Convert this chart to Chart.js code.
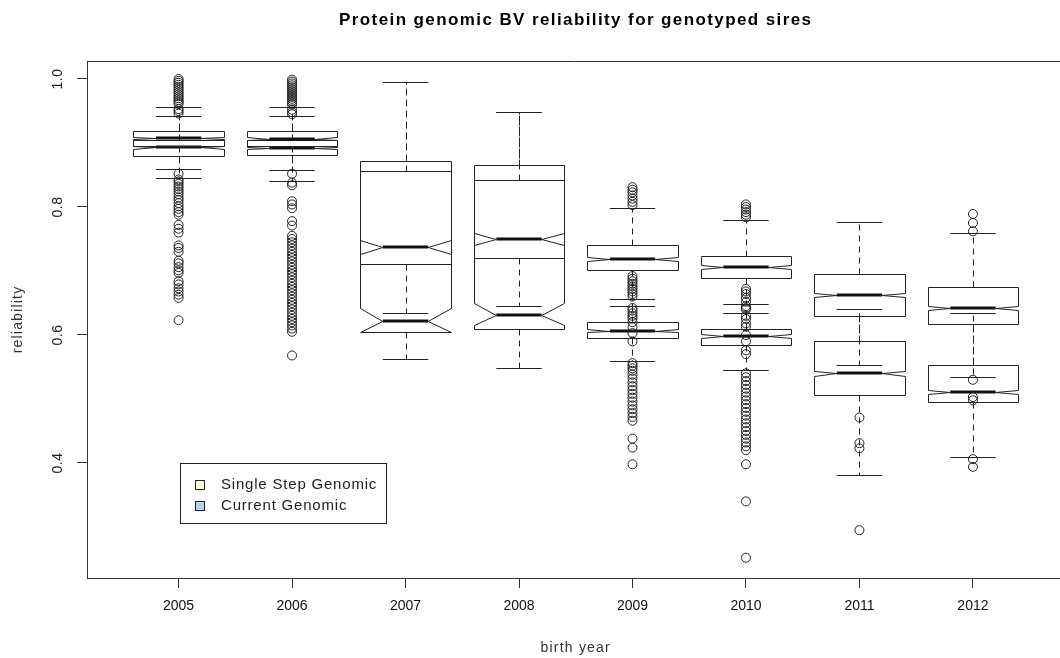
<!DOCTYPE html>
<html>
<head>
<meta charset="utf-8">
<script src="https://cdn.jsdelivr.net/npm/chart.js@4.4.1/dist/chart.umd.min.js"></script>
<style>
  html, body { margin: 0; padding: 0; background: #fff; overflow: hidden; }
  #wrap { width: 1070px; height: 658px; position: relative; }
</style>
</head>
<body>
<div id="wrap"><canvas id="chart"></canvas></div>
<script>
// Birth years on the x axis
const years = [2005, 2006, 2007, 2008, 2009, 2010, 2011, 2012];
const yTicks = [0.4, 0.6, 0.8, 1.0];
const seriesNames = ['Single Step Genomic', 'Current Genomic'];
const seriesFill = ['#FFFFE0', '#ADD8E6'];

// Single Step Genomic box stats
const ssWhiskerLow  = [0.859, 0.858, 0.634, 0.646, 0.646, 0.648, 0.553, 0.534];
const ssQ1          = [0.895, 0.895, 0.711, 0.720, 0.702, 0.689, 0.629, 0.617];
const ssMedian      = [0.908, 0.907, 0.738, 0.750, 0.719, 0.706, 0.6625, 0.642];
const ssQ3          = [0.919, 0.919, 0.856, 0.842, 0.741, 0.724, 0.695, 0.675];
const ssWhiskerHigh = [0.957, 0.956, 0.995, 0.948, 0.799, 0.779, 0.776, 0.759];
const ssNotchLow    = [0.906, 0.905, 0.727, 0.741, 0.716, 0.703, 0.659, 0.639];
const ssNotchHigh   = [0.910, 0.909, 0.749, 0.759, 0.722, 0.709, 0.666, 0.645];

// Current Genomic box stats
const cgWhiskerLow  = [0.846, 0.841, 0.5625, 0.548, 0.560, 0.545, 0.382, 0.409];
const cgQ1          = [0.880, 0.881, 0.605, 0.609, 0.596, 0.584, 0.506, 0.496];
const cgMedian      = [0.893, 0.892, 0.622, 0.632, 0.607, 0.599, 0.540, 0.511];
const cgQ3          = [0.905, 0.904, 0.872, 0.865, 0.621, 0.609, 0.590, 0.553];
const cgWhiskerHigh = [0.942, 0.942, 0.995, 0.948, 0.656, 0.635, 0.641, 0.635];
const cgNotchLow    = [0.891, 0.890, 0.605, 0.616, 0.604, 0.596, 0.536, 0.508];
const cgNotchHigh   = [0.895, 0.894, 0.642, 0.650, 0.610, 0.602, 0.544, 0.514];

// outliers per year
const ssOutliers = [
  [0.961, 0.964, 0.967, 0.970, 0.973, 0.976, 0.979, 0.982, 0.985, 0.988, 0.991, 0.994, 0.997, 1.0, 0.852],
  [0.960, 0.963, 0.966, 0.969, 0.972, 0.975, 0.978, 0.981, 0.984, 0.987, 0.990, 0.993, 0.996, 0.999, 0.852],
  [],
  [],
  [0.803, 0.808, 0.813, 0.818, 0.823, 0.827, 0.831, 0.642, 0.638, 0.634, 0.630, 0.626, 0.620, 0.612, 0.603, 0.590],
  [0.784, 0.788, 0.792, 0.796, 0.800, 0.804, 0.642, 0.630, 0.625, 0.618, 0.613, 0.600, 0.590, 0.576, 0.570],
  [0.471, 0.431, 0.423],
  [0.762, 0.775, 0.789, 0.530, 0.503, 0.498]
];
const cgOutliers = [
  [0.946, 0.950, 0.953, 0.843, 0.840, 0.836, 0.832, 0.828, 0.824, 0.820, 0.815, 0.811, 0.806, 0.801, 0.797, 0.792, 0.788,
   0.772, 0.766, 0.760, 0.740, 0.736, 0.730, 0.716, 0.712, 0.706, 0.701, 0.697, 0.684, 0.679, 0.673, 0.668, 0.663, 0.658, 0.623],
  [0.945, 0.948, 0.952, 0.838, 0.834, 0.809, 0.804, 0.798, 0.778, 0.771, 0.755, 0.750, 0.745, 0.740, 0.735, 0.730, 0.725,
   0.720, 0.715, 0.710, 0.705, 0.700, 0.695, 0.690, 0.685, 0.680, 0.675, 0.670, 0.665, 0.660, 0.655, 0.650, 0.645, 0.640,
   0.635, 0.630, 0.625, 0.620, 0.615, 0.610, 0.605, 0.568],
  [],
  [],
  [0.660, 0.664, 0.668, 0.672, 0.676, 0.680, 0.684, 0.688, 0.692, 0.556, 0.552, 0.548, 0.544, 0.538, 0.532, 0.526, 0.520,
   0.514, 0.508, 0.502, 0.496, 0.490, 0.484, 0.478, 0.472, 0.466, 0.438, 0.424, 0.398],
  [0.640, 0.645, 0.652, 0.658, 0.664, 0.668, 0.672, 0.540, 0.534, 0.528, 0.522, 0.516, 0.510, 0.504, 0.498, 0.492, 0.486,
   0.480, 0.474, 0.468, 0.462, 0.456, 0.450, 0.444, 0.438, 0.432, 0.426, 0.420, 0.398, 0.340, 0.252],
  [0.295],
  [0.406, 0.394]
];

// drawing order: Current first, Single Step on top
const boxes = [
  { wl: cgWhiskerLow, q1: cgQ1, med: cgMedian, q3: cgQ3, wh: cgWhiskerHigh, nl: cgNotchLow, nh: cgNotchHigh },
  { wl: ssWhiskerLow, q1: ssQ1, med: ssMedian, q3: ssQ3, wh: ssWhiskerHigh, nl: ssNotchLow, nh: ssNotchHigh }
];

function outlierPoints(list) {
  const pts = [];
  list.forEach((vals, i) => vals.forEach(v => pts.push({ x: years[i], y: v })));
  return pts;
}

const FONT = "'Liberation Sans', Arial, sans-serif";
const crisp = v => Math.round(v) + 0.5;

// notched boxes + whiskers, positioned through the chart scales
const boxPlugin = {
  id: 'boxes',
  beforeDatasetsDraw(chart) {
    const { ctx } = chart;
    const xs = chart.scales.x, ys = chart.scales.y;
    ctx.save();
    boxes.forEach(b => {
      years.forEach((yr, i) => {
        const cx = crisp(xs.getPixelForValue(yr));
        const l = crisp(xs.getPixelForValue(yr - 0.4));
        const r = crisp(xs.getPixelForValue(yr + 0.4));
        const il = xs.getPixelForValue(yr - 0.2), ir = xs.getPixelForValue(yr + 0.2);
        const py = v => crisp(ys.getPixelForValue(v));
        ctx.strokeStyle = '#222';
        ctx.lineWidth = 1;
        // dashed whiskers
        ctx.setLineDash([6, 5]);
        ctx.beginPath();
        ctx.moveTo(cx, py(b.q3[i])); ctx.lineTo(cx, py(b.wh[i]));
        ctx.moveTo(cx, py(b.q1[i])); ctx.lineTo(cx, py(b.wl[i]));
        ctx.stroke();
        ctx.setLineDash([]);
        // caps
        ctx.beginPath();
        ctx.moveTo(il, py(b.wh[i])); ctx.lineTo(ir, py(b.wh[i]));
        ctx.moveTo(il, py(b.wl[i])); ctx.lineTo(ir, py(b.wl[i]));
        ctx.stroke();
        // box outline with notch
        ctx.beginPath();
        ctx.moveTo(l, py(b.q1[i]));
        ctx.lineTo(l, py(b.nl[i]));
        ctx.lineTo(il, py(b.med[i]));
        ctx.lineTo(l, py(b.nh[i]));
        ctx.lineTo(l, py(b.q3[i]));
        ctx.lineTo(r, py(b.q3[i]));
        ctx.lineTo(r, py(b.nh[i]));
        ctx.lineTo(ir, py(b.med[i]));
        ctx.lineTo(r, py(b.nl[i]));
        ctx.lineTo(r, py(b.q1[i]));
        ctx.closePath();
        ctx.stroke();
        // median
        ctx.lineWidth = 3;
        ctx.strokeStyle = '#111';
        ctx.beginPath();
        const my = Math.round(ys.getPixelForValue(b.med[i]));
        ctx.moveTo(il, my); ctx.lineTo(ir, my);
        ctx.stroke();
      });
    });
    ctx.restore();
  }
};

// titles, rotated y labels, top frame line and legend
const textPlugin = {
  id: 'texts',
  afterDraw(chart) {
    const { ctx, chartArea } = chart;
    const ys = chart.scales.y;
    ctx.save();
    ctx.strokeStyle = '#333';
    ctx.lineWidth = 1;
    ctx.beginPath();
    ctx.moveTo(chartArea.left, crisp(chartArea.top));
    ctx.lineTo(chartArea.right, crisp(chartArea.top));
    ctx.stroke();

    const midX = (chartArea.left + chartArea.right) / 2;
    ctx.fillStyle = '#000';
    ctx.font = 'bold 17px ' + FONT;
    ctx.letterSpacing = '1.4px';
    ctx.textAlign = 'center';
    ctx.textBaseline = 'middle';
    ctx.fillText('Protein genomic BV reliability for genotyped sires', midX, 20);

    ctx.font = '14px ' + FONT;
    ctx.letterSpacing = '1.2px';
    ctx.fillStyle = '#333';
    ctx.fillText('birth year', midX, 648);

    ctx.save();
    ctx.translate(18, (chartArea.top + chartArea.bottom) / 2);
    ctx.rotate(-Math.PI / 2);
    ctx.fillText('reliability', 0, 0);
    ctx.restore();

    ctx.letterSpacing = '0.5px';
    ctx.fillStyle = '#222';
    yTicks.forEach(t => {
      ctx.save();
      ctx.translate(58, ys.getPixelForValue(t));
      ctx.rotate(-Math.PI / 2);
      ctx.fillText(t.toFixed(1), 0, 0);
      ctx.restore();
    });

    // legend
    ctx.strokeStyle = '#222';
    ctx.strokeRect(180.5, 463.5, 206, 60);
    ctx.textAlign = 'left';
    ctx.font = '15px ' + FONT;
    ctx.letterSpacing = '0.8px';
    seriesNames.forEach((name, i) => {
      const y = 485 + i * 21;
      ctx.fillStyle = seriesFill[i];
      ctx.fillRect(195, y - 4, 10, 9);
      ctx.strokeRect(195.5, y - 4.5, 9, 9);
      ctx.fillStyle = '#222';
      ctx.fillText(name, 221, y);
    });
    ctx.restore();
  }
};

new Chart(document.getElementById('chart'), {
  type: 'scatter',
  data: {
    datasets: [
      { label: seriesNames[0], data: outlierPoints(ssOutliers) },
      { label: seriesNames[1], data: outlierPoints(cgOutliers) }
    ]
  },
  options: {
    responsive: true,
    maintainAspectRatio: false,
    animation: false,
    layout: { padding: { top: 61, right: 1, bottom: 0, left: 0 } },
    elements: {
      point: { radius: 4.5, borderWidth: 1, borderColor: '#222', backgroundColor: 'rgba(0,0,0,0)', pointStyle: 'circle', hoverRadius: 4.5 }
    },
    plugins: { legend: { display: false }, title: { display: false }, tooltip: { enabled: false } },
    scales: {
      x: {
        type: 'linear',
        min: 2004.193,
        max: 2012.807,
        afterBuildTicks: s => { s.ticks = years.map(v => ({ value: v })); },
        afterFit: s => { s.height = 80; },
        grid: { drawOnChartArea: false, drawTicks: true, tickLength: 10, color: '#333' },
        border: { display: true, color: '#333' },
        ticks: { color: '#111', font: { family: FONT, size: 14 }, padding: 10, callback: v => String(v), maxRotation: 0 }
      },
      y: {
        type: 'linear',
        min: 0.2203,
        max: 1.0281,
        afterBuildTicks: s => { s.ticks = yTicks.map(v => ({ value: v })); },
        afterFit: s => { s.width = 87; },
        grid: { drawOnChartArea: false, drawTicks: true, tickLength: 10, color: '#333' },
        border: { display: true, color: '#333' },
        ticks: { callback: () => '' }
      }
    }
  },
  plugins: [boxPlugin, textPlugin]
});
</script>
</body>
</html>
